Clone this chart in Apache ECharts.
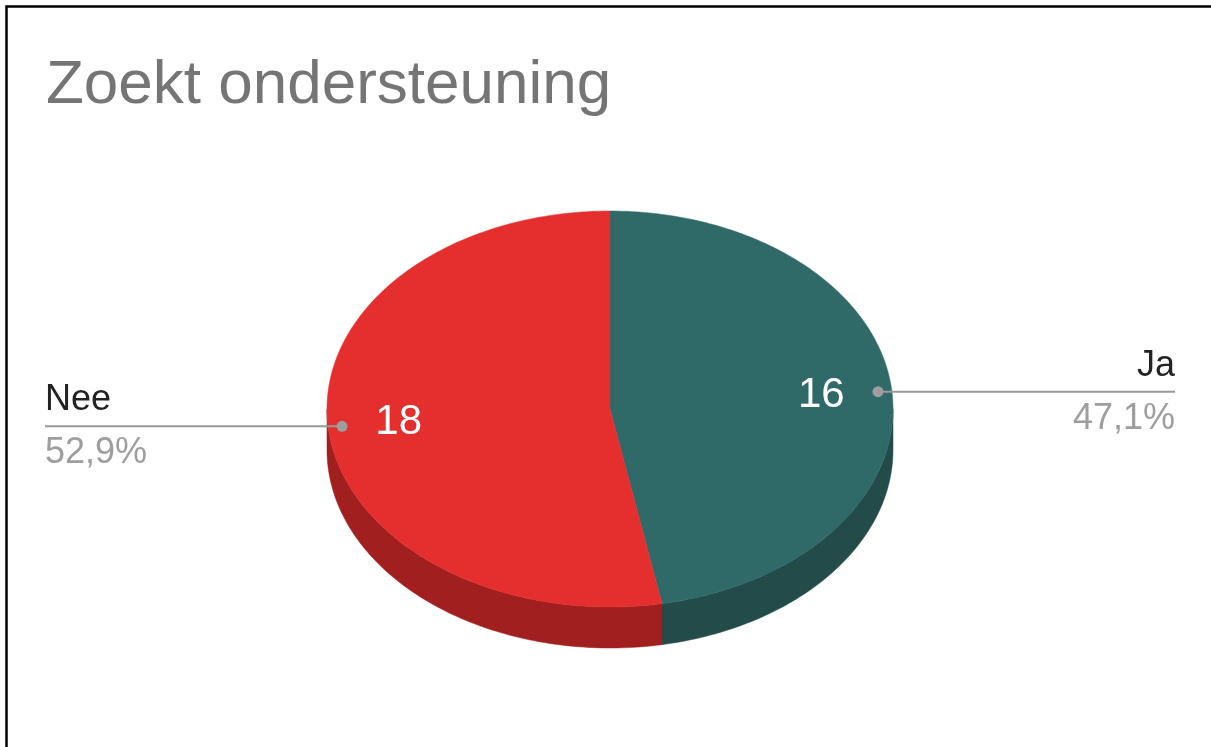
<!DOCTYPE html>
<html>
<head>
<meta charset="utf-8">
<title>Zoekt ondersteuning</title>
<script src="https://cdn.jsdelivr.net/npm/echarts@6/dist/echarts.min.js"></script>
<style>
  html, body { margin: 0; padding: 0; background: #fff; }
  #chart { width: 1211px; height: 747px; }
</style>
</head>
<body>
<div id="chart"></div>
<script>
// Survey answers: does the respondent look for support?
const categories = ['Ja', 'Nee'];
const counts = [16, 18];
const topColors = ['#2f6968', '#e52e2e'];
const sideColors = ['#224b4a', '#a11f1f'];
const titleText = 'Zoekt ondersteuning';

// Layout of the tilted pie (pixels)
const CX = 610, CY = 409, RX = 283, RY = 198, DEPTH = 41;
const FONT = '"Liberation Sans", Arial, sans-serif';
const total = counts.reduce((a, b) => a + b, 0);

// angle measured clockwise from 12 o'clock, f = fraction of the radius
function pt(theta, f, dy) {
  return [CX + RX * f * Math.sin(theta), CY - RY * f * Math.cos(theta) + (dy || 0)];
}
function arc(a, b, f, dy) {
  const pts = [];
  const n = Math.max(2, Math.ceil(Math.abs(b - a) / 0.02));
  for (let i = 0; i <= n; i++) pts.push(pt(a + (b - a) * i / n, f, dy));
  return pts;
}
function fmtPct(v) {
  return (v * 100).toFixed(1).replace('.', ',') + '%';
}

function renderSlice(params, api) {
  const i = params.dataIndex;
  const value = api.value(1);
  let before = 0;
  for (let k = 0; k < i; k++) before += counts[k];
  const a = before / total * Math.PI * 2;
  const b = (before + value) / total * Math.PI * 2;
  const mid = (a + b) / 2;
  const children = [];

  // visible part of the outer wall (front half of the ellipse)
  const s = Math.max(a, Math.PI / 2), e = Math.min(b, Math.PI * 1.5);
  if (e > s) {
    const top = arc(s, e, 1, 0);
    const bottom = arc(e, s, 1, DEPTH);
    children.push({
      type: 'polygon', z2: 1,
      shape: { points: top.concat(bottom) },
      style: { fill: sideColors[i], stroke: sideColors[i], lineWidth: 0.5 }
    });
  }
  // top face
  children.push({
    type: 'polygon', z2: 5,
    shape: { points: [[CX, CY]].concat(arc(a, b, 1, 0)) },
    style: { fill: topColors[i], stroke: topColors[i], lineWidth: 0.5 }
  });

  // value inside the slice
  const vp = pt(mid, 0.75, 0);
  children.push({
    type: 'text', z2: 10,
    style: { text: String(value), x: vp[0], y: vp[1], fill: '#ffffff', font: '42px ' + FONT, align: 'center', verticalAlign: 'middle' }
  });

  // leader line with dot, name and share
  const dp = pt(mid, 0.951, 0);
  const right = Math.sin(mid) > 0;
  const endX = right ? 1175 : 45;
  const ly = dp[1];
  children.push({
    type: 'line', z2: 10,
    shape: { x1: dp[0], y1: ly, x2: endX, y2: ly },
    style: { stroke: '#999999', lineWidth: 2 }
  });
  children.push({
    type: 'circle', z2: 11,
    shape: { cx: dp[0], cy: ly, r: 5.5 },
    style: { fill: '#9e9e9e' }
  });
  children.push({
    type: 'text', z2: 10,
    style: { text: categories[i], x: endX, y: ly - 26, fill: '#222222', font: '36px ' + FONT, align: right ? 'right' : 'left', verticalAlign: 'middle' }
  });
  children.push({
    type: 'text', z2: 10,
    style: { text: fmtPct(value / total), x: endX, y: ly + 27, fill: '#9e9e9e', font: '36px ' + FONT, align: right ? 'right' : 'left', verticalAlign: 'middle' }
  });
  return { type: 'group', children: children };
}

const chart = echarts.init(document.getElementById('chart'), null, { renderer: 'canvas' });
chart.setOption({
  backgroundColor: '#ffffff',
  animation: false,
  title: {
    text: titleText,
    left: 41,
    top: 50,
    textStyle: { fontSize: 62, fontWeight: 'normal', color: '#757575', fontFamily: FONT }
  },
  graphic: [{
    type: 'rect',
    shape: { x: 6.5, y: 6.5, width: 1400, height: 900 },
    style: { fill: 'none', stroke: '#000000', lineWidth: 2.5 },
    silent: true
  }],
  series: [{
    type: 'custom',
    coordinateSystem: 'none',
    renderItem: renderSlice,
    data: categories.map((c, i) => [i, counts[i]])
  }]
});
</script>
</body>
</html>
